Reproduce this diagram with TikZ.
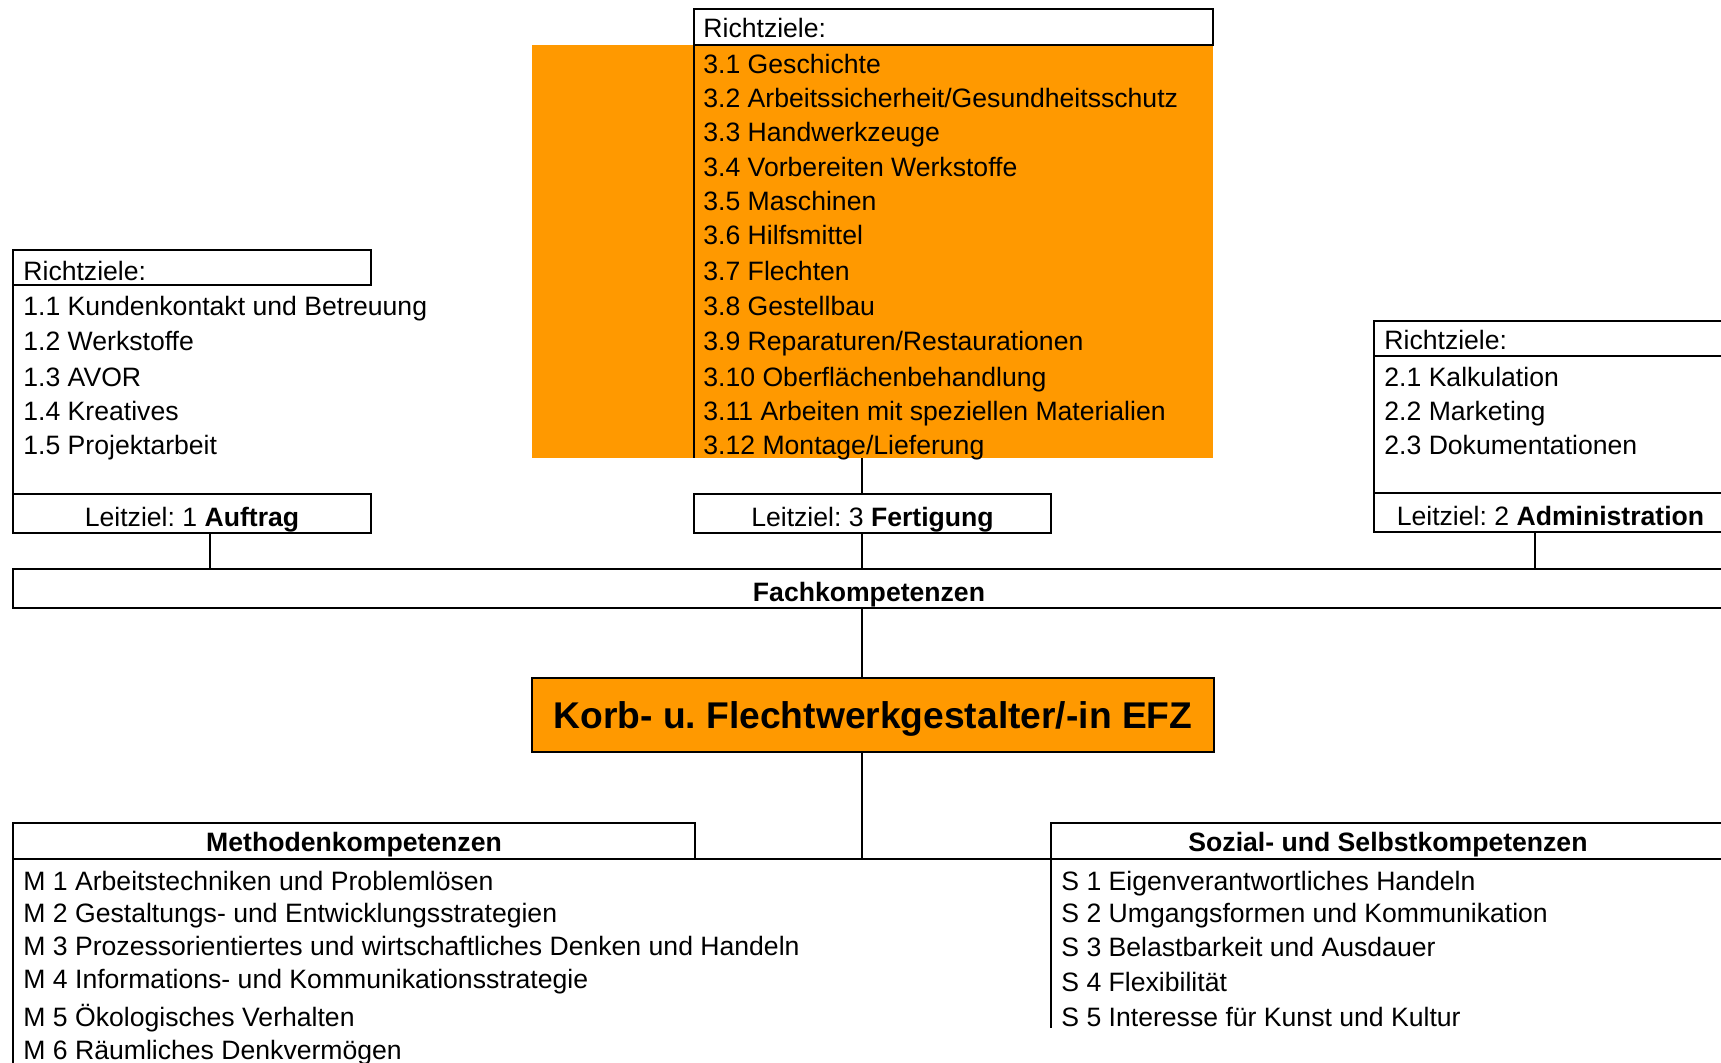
\documentclass[tikz,border=0pt]{standalone}
\usepackage{fontspec}
\setmainfont{Liberation Sans}
\definecolor{korange}{HTML}{FF9900}
\begin{document}
\frenchspacing
\begin{tikzpicture}[x=0.5pt,y=-0.5pt,
  thickbox/.style={draw, line width=1.4pt, inner sep=0pt, outer sep=0pt, anchor=north west},
  txt/.style={anchor=base west, inner sep=0pt, font=\fontsize{13.3}{16}\selectfont},
  ctxt/.style={anchor=base, inner sep=0pt, font=\fontsize{13.3}{16}\selectfont},
  conn/.style={line width=0.65pt},
  sideline/.style={line width=1pt}
]
\clip (0,0) rectangle (1721,1062);
\fill[white] (0,0) rectangle (1721,1062);

% ---------- middle column (Fertigung) ----------
\node[fill=korange, inner sep=0pt, outer sep=0pt, anchor=north west, minimum width=340.5pt, minimum height=206.5pt] (org) at (532,45) {};
\node[thickbox, minimum width=259.5pt, minimum height=18pt] (r3) at (694,9) {};
\draw[sideline] (r3.south west) -- (r3.south west |- org.south);
\node[txt] (r3t) at (703,37) {Richtziele:};
\node[txt] (t31) at (703,73) {3.1 Geschichte};
\node[txt] (t32) at (703,107) {3.2 Arbeitssicherheit/Gesundheitsschutz};
\node[txt] (t33) at (703,141) {3.3 Handwerkzeuge};
\node[txt] (t34) at (703,176) {3.4 Vorbereiten Werkstoffe};
\node[txt] (t35) at (703,210) {3.5 Maschinen};
\node[txt] (t36) at (703,244) {3.6 Hilfsmittel};
\node[txt] (t37) at (703,280) {3.7 Flechten};
\node[txt] (t38) at (703,315) {3.8 Gestellbau};
\node[txt] (t39) at (703,350) {3.9 Reparaturen/Restaurationen};
\node[txt] (t310) at (703,386) {3.10 Oberflächenbehandlung};
\node[txt] (t311) at (703,420) {3.11 Arbeiten mit speziellen Materialien};
\node[txt] (t312) at (703,454) {3.12 Montage/Lieferung};
\node[thickbox, minimum width=178.5pt, minimum height=19.5pt] (l3) at (694,494) {};
\node[ctxt] (l3t) at (872.5,526) {Leitziel: 3 \textbf{Fertigung}};

% ---------- left column (Auftrag) ----------
\node[thickbox, minimum width=179pt, minimum height=17.5pt] (r1) at (13,250) {};
\node[txt] (r1t) at (23,280) {Richtziele:};
\node[txt] (t11) at (23,315) {1.1 Kundenkontakt und Betreuung};
\node[txt] (t12) at (23,350) {1.2 Werkstoffe};
\node[txt] (t13) at (23,386) {1.3 AVOR};
\node[txt] (t14) at (23,420) {1.4 Kreatives};
\node[txt] (t15) at (23,454) {1.5 Projektarbeit};
\node[thickbox, minimum width=179pt, minimum height=19.5pt] (l1) at (13,494) {};
\node[ctxt] (l1t) at (192,526) {Leitziel: 1 \textbf{Auftrag}};
\draw[sideline] (r1.south west) -- (l1.north west);

% ---------- right column (Administration) ----------
\node[thickbox, minimum width=178.5pt, minimum height=17.5pt] (r2) at (1374,321) {};
\node[txt] (r2t) at (1384,349) {Richtziele:};
\node[txt] (t21) at (1384,386) {2.1 Kalkulation};
\node[txt] (t22) at (1384,420) {2.2 Marketing};
\node[txt] (t23) at (1384,454) {2.3 Dokumentationen};
\node[thickbox, minimum width=178.5pt, minimum height=19.5pt] (l2) at (1374,493) {};
\node[ctxt] (l2t) at (1550.5,525) {Leitziel: 2 \textbf{Administration}};
\draw[sideline] (r2.south west) -- (l2.north west);

% ---------- Fachkompetenzen ----------
\node[thickbox, minimum width=856pt, minimum height=19.5pt] (fach) at (13,569) {};
\node[ctxt, font=\fontsize{13.3}{16}\selectfont\bfseries] (facht) at (869,601) {Fachkompetenzen};

% ---------- main title ----------
\node[thickbox, fill=korange, minimum width=341pt, minimum height=37pt] (main) at (532,678) {};
\node[anchor=base, inner sep=0pt, font=\fontsize{18.6}{22}\selectfont\bfseries] (maint) at (873,728) {Korb- u. Flechtwerkgestalter/-in EFZ};

% ---------- Methoden / Sozial ----------
\node[thickbox, minimum width=341pt, minimum height=18pt] (meth) at (13,823) {};
\node[ctxt, font=\fontsize{13.3}{16}\selectfont\bfseries] (metht) at (354,851) {Methodenkompetenzen};
\node[thickbox, minimum width=337pt, minimum height=18pt] (soz) at (1051,823) {};
\node[ctxt, font=\fontsize{13.3}{16}\selectfont\bfseries] (sozt) at (1388,851) {Sozial- und Selbstkompetenzen};
\draw[line width=1.4pt] (meth.south east) -- (soz.south west);
\coordinate (mbot) at (13,1070);
\coordinate (sbot) at (1051,1028);
\draw[sideline] (meth.south west) -- (mbot);
\draw[sideline] (soz.south west) -- (sbot);

\node[txt] (m1) at (23,890) {M 1 Arbeitstechniken und Problemlösen};
\node[txt] (m2) at (23,922) {M 2 Gestaltungs- und Entwicklungsstrategien};
\node[txt] (m3) at (23,955) {M 3 Prozessorientiertes und wirtschaftliches Denken und Handeln};
\node[txt] (m4) at (23,988) {M 4 Informations- und Kommunikationsstrategie};
\node[txt] (m5) at (23,1026) {M 5 Ökologisches Verhalten};
\node[txt] (m6) at (23,1059) {M 6 Räumliches Denkvermögen};

\node[txt] (s1) at (1061,890) {S 1 Eigenverantwortliches Handeln};
\node[txt] (s2) at (1061,922) {S 2 Umgangsformen und Kommunikation};
\node[txt] (s3) at (1061,956) {S 3 Belastbarkeit und Ausdauer};
\node[txt] (s4) at (1061,991) {S 4 Flexibilität};
\node[txt] (s5) at (1061,1026) {S 5 Interesse für Kunst und Kultur};

% ---------- connectors ----------
\draw[conn] ([xshift=9pt]l1.south) -- ([xshift=9pt]l1.south |- fach.north);
\draw[conn] ([xshift=-8.75pt]l2.south) -- ([xshift=-8.75pt]l2.south |- fach.north);
\draw[conn] ([xshift=-5.25pt]l3.north |- org.south) -- ([xshift=-5.25pt]l3.north);
\draw[conn] ([xshift=-5.25pt]l3.south) -- ([xshift=-5.25pt]l3.south |- fach.north);
\draw[conn] ([xshift=-5.5pt]main.north |- fach.south) -- ([xshift=-5.5pt]main.north);
\draw[conn] ([xshift=-5.5pt]main.south) -- ([xshift=-5.5pt]main.south |- meth.south);
\end{tikzpicture}
\end{document}
